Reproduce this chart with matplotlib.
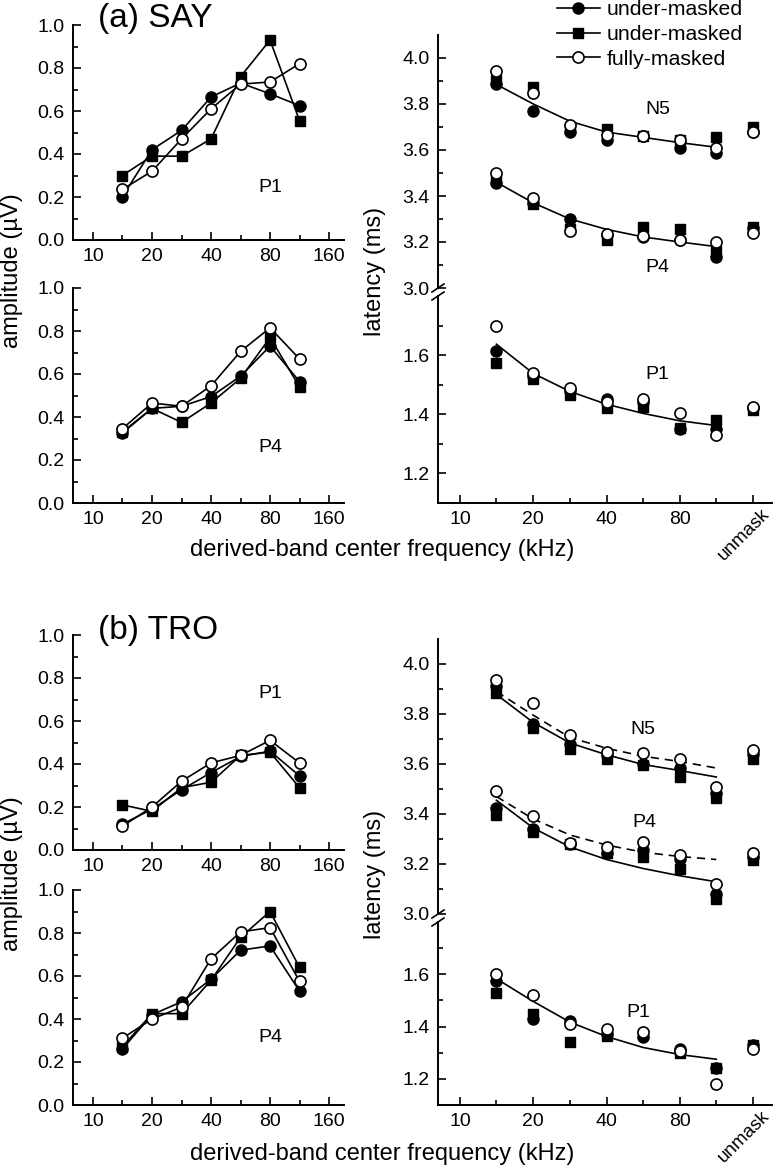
import matplotlib
matplotlib.use("Agg")
import matplotlib.pyplot as plt
from matplotlib.lines import Line2D
from matplotlib.ticker import NullFormatter
from matplotlib.transforms import offset_copy

plt.rcParams['font.family'] = ['Liberation Sans', 'DejaVu Sans']

W, H = 773, 1169

# derived-band centre frequencies (kHz); unmasked response sits at the 160 slot
freqs = [14.1, 20, 28.3, 40, 56.6, 80, 113.1]
lat_x = freqs + [160]
labels = ['under-masked', 'under-masked', 'fully-masked']

# (a) SAY amplitudes (uV): filled circle / filled square / open circle
say_p1_circ = [0.20, 0.42, 0.51, 0.665, 0.73, 0.68, 0.625]
say_p1_sq = [0.30, 0.39, 0.39, 0.47, 0.76, 0.93, 0.555]
say_p1_open = [0.235, 0.32, 0.47, 0.61, 0.725, 0.735, 0.82]
say_p4_circ = [0.325, 0.44, 0.45, 0.495, 0.59, 0.73, 0.565]
say_p4_sq = [0.33, 0.44, 0.375, 0.465, 0.58, 0.77, 0.54]
say_p4_open = [0.345, 0.465, 0.45, 0.545, 0.705, 0.815, 0.67]

# (b) TRO amplitudes (uV)
tro_p1_circ = [0.12, 0.19, 0.28, 0.36, 0.435, 0.46, 0.345]
tro_p1_sq = [0.21, 0.18, 0.29, 0.315, 0.44, 0.455, 0.29]
tro_p1_open = [0.11, 0.20, 0.32, 0.405, 0.44, 0.51, 0.405]
tro_p4_circ = [0.26, 0.42, 0.48, 0.585, 0.72, 0.74, 0.53]
tro_p4_sq = [0.27, 0.425, 0.425, 0.58, 0.78, 0.90, 0.64]
tro_p4_open = [0.31, 0.40, 0.455, 0.68, 0.805, 0.825, 0.575]

# (a) SAY latencies (ms), last value = unmasked
say_n5_circ = [3.885, 3.77, 3.68, 3.645, 3.66, 3.61, 3.585, 3.68]
say_n5_sq = [3.905, 3.875, 3.69, 3.69, 3.66, 3.645, 3.655, 3.70]
say_n5_open = [3.945, 3.85, 3.71, 3.665, 3.66, 3.645, 3.61, 3.68]
say_n5_fit = [3.885, 3.80, 3.725, 3.678, 3.655, 3.632, 3.612]
say_p4l_circ = [3.455, 3.37, 3.30, 3.23, 3.22, 3.21, 3.135, 3.26]
say_p4l_sq = [3.47, 3.365, 3.255, 3.21, 3.265, 3.255, 3.16, 3.265]
say_p4l_open = [3.50, 3.39, 3.25, 3.235, 3.225, 3.21, 3.20, 3.24]
say_p4_fit = [3.46, 3.37, 3.30, 3.255, 3.222, 3.20, 3.18]
say_p1l_circ = [1.615, 1.53, 1.48, 1.45, 1.44, 1.35, 1.35, 1.42]
say_p1l_sq = [1.575, 1.52, 1.465, 1.42, 1.425, 1.355, 1.38, 1.415]
say_p1l_open = [1.70, 1.54, 1.49, 1.44, 1.45, 1.405, 1.33, 1.425]
say_p1_fit = [1.637, 1.538, 1.477, 1.434, 1.403, 1.378, 1.362]

# (b) TRO latencies (ms)
tro_n5_circ = [3.91, 3.76, 3.68, 3.635, 3.60, 3.585, 3.485, 3.64]
tro_n5_sq = [3.885, 3.745, 3.66, 3.62, 3.595, 3.55, 3.465, 3.62]
tro_n5_open = [3.935, 3.845, 3.715, 3.65, 3.645, 3.62, 3.51, 3.655]
tro_n5_fit = [3.878, 3.766, 3.684, 3.637, 3.598, 3.574, 3.548]
tro_n5_fit_open = [3.89, 3.795, 3.706, 3.663, 3.631, 3.61, 3.584]
tro_p4l_circ = [3.425, 3.34, 3.28, 3.245, 3.255, 3.22, 3.08, 3.23]
tro_p4l_sq = [3.395, 3.33, 3.28, 3.245, 3.23, 3.18, 3.06, 3.215]
tro_p4l_open = [3.49, 3.39, 3.285, 3.27, 3.29, 3.235, 3.12, 3.245]
tro_p4_fit = [3.455, 3.344, 3.268, 3.218, 3.182, 3.153, 3.129]
tro_p4_fit_open = [3.47, 3.38, 3.316, 3.276, 3.247, 3.23, 3.218]
tro_p1l_circ = [1.575, 1.43, 1.42, 1.37, 1.36, 1.315, 1.24, 1.33]
tro_p1l_sq = [1.53, 1.45, 1.34, 1.365, 1.37, 1.30, 1.24, 1.33]
tro_p1l_open = [1.60, 1.52, 1.41, 1.39, 1.38, 1.305, 1.18, 1.315]
tro_p1_fit = [1.583, 1.496, 1.417, 1.362, 1.32, 1.293, 1.275]

fig = plt.figure(figsize=(W / 100, H / 100), dpi=100)


def box(x0, y0, x1, y1):
    return [x0 / W, 1 - y1 / H, (x1 - x0) / W, (y1 - y0) / H]


def fx(x):
    return x / W


def fy(y):
    return 1 - y / H


def style(ax, xlim, ylim, yt, ymin, xlab=True, bottom=True):
    for s in ['top', 'right']:
        ax.spines[s].set_visible(False)
    for s in ['left', 'bottom']:
        ax.spines[s].set_linewidth(1.4)
    ax.set_xscale('log', base=2)
    ax.set_xlim(*xlim)
    ax.set_ylim(*ylim)
    ax.set_xticks([10, 20, 40, 80, 160])
    ax.set_xticks([14.1, 28.3, 56.6, 113.1], minor=True)
    ax.xaxis.set_minor_formatter(NullFormatter())
    ax.set_xticklabels(['10', '20', '40', '80', '160' if xlab else ''])
    ax.set_yticks(yt)
    ax.set_yticklabels([f'{v:.1f}' for v in yt])
    ax.set_yticks(ymin, minor=True)
    ax.tick_params(which='both', direction='in', labelsize=14, width=1.2)
    ax.tick_params(which='major', length=6, pad=6)
    ax.tick_params(which='minor', length=3.5)
    if not bottom:
        ax.spines['bottom'].set_visible(False)
        ax.tick_params(axis='x', which='both', bottom=False, labelbottom=False)


def amp_panel(rect, circ, sq, op, tag, ty):
    ax = fig.add_axes(box(*rect))
    style(ax, (7.906, 190.7), (0, 1.0), [0, 0.2, 0.4, 0.6, 0.8, 1.0],
          [0.1, 0.3, 0.5, 0.7, 0.9])
    ax.plot(freqs, circ, '-o', color='k', mfc='k', ms=8, lw=1.2)
    ax.plot(freqs, sq, '-s', color='k', mfc='k', ms=7, lw=1.2)
    ax.plot(freqs, op, '-o', color='k', mfc='white', ms=8, lw=1.2, mew=1.2)
    ax.text(80, ty, tag, fontsize=14, ha='center', va='center')
    return ax


def scatter3(ax, circ, sq, op):
    ax.plot(lat_x, circ, 'o', color='k', mfc='k', ms=8, zorder=3)
    ax.plot(lat_x, sq, 's', color='k', mfc='k', ms=7, zorder=3)
    ax.plot(lat_x, op, 'o', color='k', mfc='white', ms=8, mew=1.2, zorder=3)


def lat_panel(x0, x1, top, brk_up, brk_lo, bot, upper, lower, texts, dashed=None):
    xl = (8.11, 191.7)
    axu = fig.add_axes(box(x0, top, x1, brk_up))
    style(axu, xl, (3.0, 4.1), [3.0, 3.2, 3.4, 3.6, 3.8, 4.0],
          [3.1, 3.3, 3.5, 3.7, 3.9], bottom=False)
    axl = fig.add_axes(box(x0, brk_lo, x1, bot))
    style(axl, xl, (1.1, 1.8), [1.2, 1.4, 1.6], [1.3, 1.5, 1.7], xlab=False)
    for circ, sq, op, fit in upper:
        axu.plot(freqs, fit, '-', color='k', lw=1.2, zorder=1)
        scatter3(axu, circ, sq, op)
    if dashed:
        for fit in dashed:
            axu.plot(freqs, fit, color='k', lw=1.2, ls=(0, (5, 3.5)), zorder=1)
    circ, sq, op, fit = lower
    axl.plot(freqs, fit, '-', color='k', lw=1.2, zorder=1)
    scatter3(axl, circ, sq, op)
    for (ax, x, y, s) in texts:
        (axu if ax == 'u' else axl).text(x, y, s, fontsize=14, ha='center', va='center')
    axl.text(160, 0, 'unmask', fontsize=13.5, rotation=45, ha='right', va='top',
             rotation_mode='anchor',
             transform=offset_copy(axl.get_xaxis_transform(), fig=fig, x=8, y=-2, units='dots'))
    # axis break marks
    for yb in (brk_up, brk_lo):
        fig.add_artist(Line2D([fx(x0 - 6), fx(x0 + 6)], [fy(yb + 4), fy(yb - 4)],
                              color='k', lw=1.2, transform=fig.transFigure))
    return axu, axl


# ---- (a) SAY ----
amp_panel((73, 25, 344, 240), say_p1_circ, say_p1_sq, say_p1_open, 'P1', 0.242)
amp_panel((73, 288, 344, 503), say_p4_circ, say_p4_sq, say_p4_open, 'P4', 0.256)
lat_panel(438, 772, 35, 288, 296, 503,
          [(say_n5_circ, say_n5_sq, say_n5_open, say_n5_fit),
           (say_p4l_circ, say_p4l_sq, say_p4l_open, say_p4_fit)],
          (say_p1l_circ, say_p1l_sq, say_p1l_open, say_p1_fit),
          [('u', 65, 3.776, 'N5'), ('u', 65, 3.09, 'P4'), ('l', 65, 1.535, 'P1')])

# ---- (b) TRO ----
amp_panel((73, 635, 344, 850), tro_p1_circ, tro_p1_sq, tro_p1_open, 'P1', 0.73)
amp_panel((73, 890, 344, 1105), tro_p4_circ, tro_p4_sq, tro_p4_open, 'P4', 0.314)
lat_panel(438, 772, 639, 914, 922, 1105,
          [(tro_n5_circ, tro_n5_sq, tro_n5_open, tro_n5_fit),
           (tro_p4l_circ, tro_p4l_sq, tro_p4l_open, tro_p4_fit)],
          (tro_p1l_circ, tro_p1l_sq, tro_p1l_open, tro_p1_fit),
          [('u', 56.3, 3.74, 'N5'), ('u', 57, 3.367, 'P4'), ('l', 54, 1.452, 'P1')],
          dashed=[tro_n5_fit_open, tro_p4_fit_open])

# titles and axis labels
fig.text(fx(98), fy(18), '(a) SAY', fontsize=24, ha='left', va='center')
fig.text(fx(98), fy(631), '(b) TRO', fontsize=24, ha='left', va='center')
for yc in (271, 874):
    fig.text(fx(12), fy(yc), 'amplitude (µV)', fontsize=17, rotation=90, ha='center', va='center')
    fig.text(fx(375), fy(yc), 'latency (ms)', fontsize=17, rotation=90, ha='center', va='center')
for yc in (550, 1154):
    fig.text(fx(382), fy(yc), 'derived-band center frequency (kHz)', fontsize=17,
             ha='center', va='center')

handles = [Line2D([], [], color='k', marker='o', mfc='k', ms=8, lw=1.2),
           Line2D([], [], color='k', marker='s', mfc='k', ms=7, lw=1.2),
           Line2D([], [], color='k', marker='o', mfc='white', ms=8, mew=1.2, lw=1.2)]
fig.legend(handles, labels, loc='upper left', bbox_to_anchor=(fx(557), fy(0)),
           bbox_transform=fig.transFigure, frameon=False, fontsize=15.3,
           handlelength=2.0, handletextpad=0.35, labelspacing=0.28,
           borderpad=0, borderaxespad=0, numpoints=1)

fig.savefig('out.png', dpi=100)
